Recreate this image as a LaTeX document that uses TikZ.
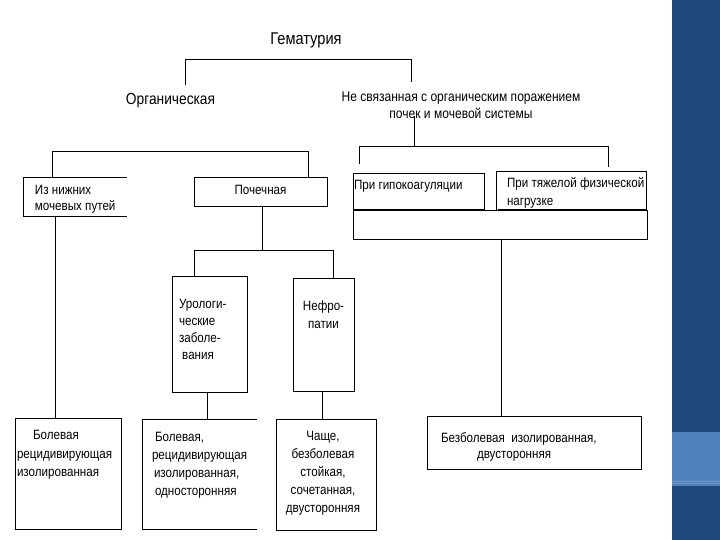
\documentclass[tikz,border=0pt]{standalone}
\usepackage{fontspec}
\setmainfont[FakeStretch=0.86]{Liberation Sans}
\definecolor{panelblue}{RGB}{31,73,125}
\definecolor{bandblue}{RGB}{79,129,189}
\definecolor{bandline}{RGB}{110,150,205}
\newcommand{\bxt}[5]{\parbox[b][#2][t]{#1}{\fontsize{13.5}{#4}\selectfont\vspace*{#3}#5}}
\tikzset{
  bx/.style={anchor=north west, inner sep=0pt, outer sep=0pt, line width=0.8pt},
  ln/.style={line width=0.8pt},
  thickbot/.style={line width=2pt}
}
\begin{document}
\begin{tikzpicture}[x=1pt,y=-1pt]
\fill[white] (0,0) rectangle (720,540);
\useasboundingbox (0,0) rectangle (720,540);
% right panel
\fill[panelblue] (672,0) rectangle (720,540);
\fill[bandblue] (672,432) rectangle (720,486);
\draw[bandline, line width=0.6pt] (672,481) -- (720,481);
\draw[bandline, line width=0.6pt] (672,483.5) -- (720,483.5);

% titles
\node[anchor=base, inner sep=0pt, font=\fontsize{17}{20}\selectfont] (title) at (306,45) {Гематурия};
\node[anchor=base, inner sep=0pt, font=\fontsize{16}{20}\selectfont] (org) at (170.5,105) {Органическая};
\node[anchor=north, inner sep=0pt, align=center, font=\fontsize{14}{17}\selectfont] (nesv) at (461,91.5)
  {Не связанная с органическим поражением\\почек и мочевой системы};

% boxes
\node[bx] (izn) at (23,177) {\bxt{104pt}{39pt}{6.8pt}{16pt}{\hspace*{12pt}\begin{tabular}[t]{@{}l@{}}Из нижних\\мочевых путей\end{tabular}}};
\draw[ln] (izn.north east) -- (izn.north west) -- (izn.south west) -- (izn.south east);

\node[bx, draw] (poch) at (194,177) {\bxt{133pt}{29pt}{6.8pt}{16pt}{\centering\begin{tabular}[t]{@{}c@{}}Почечная\end{tabular}}};

\node[bx, draw] (gipo) at (353,173) {\bxt{131pt}{37pt}{5.8pt}{16pt}{\hspace*{1pt}\begin{tabular}[t]{@{}l@{}}При гипокоагуляции\end{tabular}}};
\draw[thickbot] (gipo.south west) -- (gipo.south east);

\node[bx, draw] (tyazh) at (496,171) {\bxt{150pt}{39pt}{4.75pt}{17.5pt}{\hspace*{11pt}\begin{tabular}[t]{@{}l@{}}При тяжелой физической\\нагрузке\end{tabular}}};
\draw[thickbot] ([xshift=2pt]tyazh.south west) -- (tyazh.south east);

\node[bx, draw, minimum width=294pt, minimum height=29pt] (lower) at (353,210) {};

\node[bx, draw] (uro) at (172,276) {\bxt{75pt}{116pt}{20.1pt}{17pt}{\hspace*{7pt}\begin{tabular}[t]{@{}l@{}}Урологи-\\ческие\\заболе-\\\ вания\end{tabular}}};

\node[bx, draw] (nef) at (293,278) {\bxt{61pt}{113pt}{19.4pt}{18pt}{\centering\begin{tabular}[t]{@{}c@{}}Нефро-\\патии\end{tabular}}};

\node[bx, draw] (b1) at (15,418) {\bxt{106pt}{111pt}{9pt}{18.5pt}{\hspace*{2pt}\begin{tabular}[t]{@{}l@{}}\hspace*{16pt}Болевая\\рецидивирующая\\изолированная\end{tabular}}};

\node[bx] (b2) at (142,419) {\bxt{115pt}{110pt}{9.4pt}{18pt}{\hspace*{10pt}\begin{tabular}[t]{@{}l@{}}\hspace*{3pt}Болевая,\\рецидивирующая\\\hspace*{2pt}изолированная,\\\hspace*{3pt}односторонняя\end{tabular}}};
\draw[ln] (b2.north east) -- (b2.north west) -- (b2.south west) -- (b2.south east);

\node[bx, draw] (b3) at (276,419) {\bxt{100pt}{111pt}{8.4pt}{18pt}{\hspace*{-6pt}\centering\begin{tabular}[t]{@{}c@{}}Чаще,\\безболевая\\стойкая,\\сочетанная,\\двусторонняя\end{tabular}}};

\node[bx, draw] (b4) at (427,416) {\bxt{214pt}{53pt}{14.8pt}{16pt}{\hspace*{14pt}\begin{tabular}[t]{@{}l@{}}Безболевая\ \ изолированная,\\\hspace*{36pt}двусторонняя\end{tabular}}};

% connectors
\coordinate (topbus) at (0,59);
\coordinate (orgend) at (185,85);
\coordinate (nesvend) at (411,82);
\draw[ln] (orgend) -- (orgend |- topbus) -- (nesvend |- topbus) -- (nesvend);

\coordinate (orgbus) at (0,151);
\draw[ln] ([xshift=29pt]izn.north west) -- ([xshift=29pt]izn.north west |- orgbus)
  -- ([xshift=114pt]poch.north west |- orgbus) -- ([xshift=114pt]poch.north west);

\coordinate (nesvbus) at (0,146);
\coordinate (gipoend) at (359,164);
\coordinate (tyazhend) at (608,167);
\draw[ln] ([xshift=-47pt,yshift=3pt]nesv.south) -- ([xshift=-47pt]nesv.south |- nesvbus);
\draw[ln] (gipoend) -- (gipoend |- nesvbus) -- (tyazhend |- nesvbus) -- (tyazhend);

\coordinate (pochbus) at (0,250);
\draw[ln] ([xshift=1.5pt]poch.south) -- ([xshift=1.5pt]poch.south |- pochbus);
\draw[ln] ([xshift=22pt]uro.north west) -- ([xshift=22pt]uro.north west |- pochbus)
  -- ([xshift=40pt]nef.north west |- pochbus) -- ([xshift=40pt]nef.north west);

\draw[ln] ([xshift=32pt]izn.south west) -- ([xshift=32pt]izn.south west |- b1.north);
\draw[ln] ([xshift=-2.5pt]uro.south) -- ([xshift=-2.5pt]uro.south |- b2.north);
\draw[ln] ([xshift=-1.5pt]nef.south) -- ([xshift=-1.5pt]nef.south |- b3.north);
\draw[ln] ([xshift=1pt]lower.south) -- ([xshift=1pt]lower.south |- b4.north);
\end{tikzpicture}
\end{document}
